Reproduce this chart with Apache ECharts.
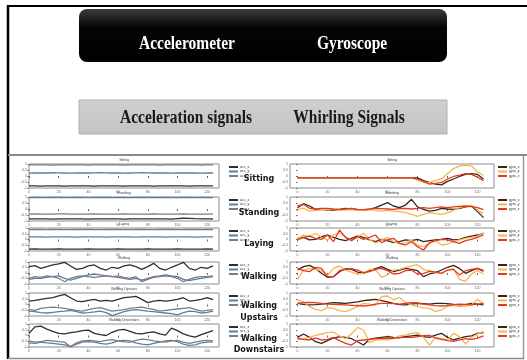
<!DOCTYPE html>
<html>
<head>
<meta charset="utf-8">
<script src="https://cdn.jsdelivr.net/npm/echarts@6/dist/echarts.min.js"></script>
<style>
  html, body { margin: 0; padding: 0; background: #fff; }
  #chart { width: 527px; height: 360px; }
</style>
</head>
<body>
<div id="chart"></div>
<script>
// Activities shown in each row of the panel
const activities = ['Sitting', 'Standing', 'Laying', 'Walking', 'Walking Upstairs', 'Walking Downstairs'];
const rowLabels = [['Sitting'], ['Standing'], ['Laying'], ['Walking'], ['Walking', 'Upstairs'], ['Walking', 'Downstairs']];

// Sample index of each plotted reading within the 128-sample window
const sampleIdx = [0, 4, 8, 12, 16, 20, 24, 28, 32, 36, 40, 44, 48, 52, 56, 60, 64, 68, 72, 76, 80, 84, 88, 92, 96, 100, 104, 108, 112, 116, 120, 124];
const xTicks = [0, 20, 40, 60, 80, 100, 120];

const accNames = ['acc_x', 'acc_y', 'acc_z'];
const gyroNames = ['gyro_x', 'gyro_y', 'gyro_z'];

// Normalised accelerometer signals (x, y, z)
const accSitting = [
  [-0.83,-0.82,-0.84,-0.83,-0.82,-0.83,-0.84,-0.83,-0.82,-0.83,-0.83,-0.84,-0.82,-0.83,-0.83,-0.82,-0.84,-0.83,-0.83,-0.82,-0.83,-0.84,-0.83,-0.82,-0.83,-0.83,-0.82,-0.84,-0.83,-0.82,-0.83,-0.83],
  [0.24,0.25,0.26,0.25,0.27,0.26,0.25,0.24,0.25,0.26,0.25,0.26,0.27,0.26,0.25,0.25,0.24,0.25,0.26,0.27,0.26,0.25,0.26,0.25,0.24,0.25,0.25,0.26,0.25,0.24,0.25,0.25],
  [0.92,0.92,0.93,0.92,0.91,0.92,0.92,0.93,0.92,0.92,0.91,0.92,0.93,0.92,0.92,0.92,0.91,0.92,0.92,0.93,0.92,0.92,0.91,0.92,0.92,0.93,0.92,0.92,0.92,0.91,0.92,0.92]
];
const accStanding = [
  [-0.83,-0.83,-0.82,-0.83,-0.84,-0.83,-0.83,-0.82,-0.83,-0.83,-0.84,-0.83,-0.82,-0.83,-0.83,-0.83,-0.84,-0.83,-0.82,-0.83,-0.83,-0.83,-0.82,-0.83,-0.84,-0.80,-0.77,-0.78,-0.81,-0.83,-0.82,-0.83],
  [0.95,0.96,0.96,0.95,0.96,0.97,0.96,0.95,0.96,0.96,0.95,0.96,0.97,0.96,0.95,0.96,0.96,0.95,0.96,0.96,0.97,0.96,0.95,0.96,0.96,0.95,0.96,0.96,0.95,0.96,0.96,0.95],
  [-0.42,-0.41,-0.42,-0.43,-0.42,-0.41,-0.40,-0.42,-0.42,-0.43,-0.42,-0.41,-0.42,-0.42,-0.43,-0.42,-0.41,-0.42,-0.42,-0.43,-0.42,-0.41,-0.42,-0.42,-0.43,-0.42,-0.41,-0.42,-0.43,-0.42,-0.42,-0.41]
];
const accLaying = [
  [-0.83,-0.82,-0.83,-0.84,-0.83,-0.82,-0.83,-0.83,-0.84,-0.83,-0.82,-0.83,-0.83,-0.84,-0.83,-0.82,-0.83,-0.83,-0.84,-0.83,-0.82,-0.83,-0.83,-0.84,-0.83,-0.82,-0.83,-0.83,-0.84,-0.83,-0.82,-0.83],
  [0.22,0.23,0.22,0.21,0.22,0.23,0.22,0.22,0.21,0.22,0.23,0.22,0.22,0.21,0.22,0.23,0.22,0.22,0.21,0.22,0.23,0.22,0.22,0.21,0.22,0.23,0.22,0.22,0.21,0.22,0.23,0.22],
  [0.86,0.88,0.87,0.85,0.87,0.88,0.86,0.85,0.87,0.88,0.87,0.86,0.85,0.87,0.88,0.87,0.86,0.85,0.87,0.88,0.86,0.85,0.87,0.88,0.87,0.86,0.85,0.87,0.88,0.86,0.87,0.87]
];
const accWalking = [
  [0.58,0.67,0.42,0.58,0.73,0.82,0.97,0.64,0.33,0.42,0.64,0.73,0.42,0.27,0.52,0.42,0.64,0.73,0.58,0.33,0.58,0.88,0.42,0.27,0.52,0.73,0.97,0.42,0.27,0.52,0.42,0.64],
  [-0.58,-0.48,-0.48,-0.39,-0.33,-0.27,-0.48,-0.64,-0.48,-0.33,-0.18,-0.09,-0.18,-0.27,-0.33,-0.39,-0.48,-0.58,-0.48,-0.64,-0.48,-0.33,-0.27,-0.18,-0.27,-0.33,-0.58,-0.70,-0.58,-0.48,-0.39,-0.33],
  [-0.48,-0.33,-0.39,-0.27,-0.33,-0.48,-0.79,-0.48,-0.33,-0.27,-0.33,-0.39,-0.33,-0.27,-0.33,-0.27,-0.39,-0.48,-0.33,-0.79,-0.58,-0.39,-0.33,-0.27,-0.33,-0.48,-0.79,-0.58,-0.39,-0.33,-0.33,-0.27]
];
const accUpstairs = [
  [0.30,0.36,0.45,0.54,0.59,0.74,0.88,0.59,0.30,0.25,0.36,0.45,0.30,0.36,0.30,0.45,0.59,0.65,0.71,0.45,0.16,0.30,0.36,0.30,0.36,0.45,0.59,0.30,0.36,0.45,0.59,0.42],
  [-0.57,-0.62,-0.71,-0.74,-0.68,-0.62,-0.57,-0.51,-0.62,-0.74,-0.71,-0.65,-0.57,-0.71,-0.97,-0.80,-0.62,-0.51,-0.45,-0.51,-0.57,-0.62,-0.68,-0.74,-0.80,-0.91,-0.71,-0.57,-0.62,-0.74,-0.68,-0.57],
  [-0.42,-0.51,-0.33,-0.28,-0.22,-0.28,-0.33,-0.42,-0.51,-0.57,-0.45,-0.33,-0.28,-0.42,-0.57,-0.51,-0.45,-0.33,-0.28,-0.22,-0.33,-0.42,-0.57,-0.51,-0.45,-0.39,-0.33,-0.28,-0.42,-0.57,-0.51,-0.45]
];
const accDownstairs = [
  [0.19,0.75,0.81,0.56,0.36,0.19,0.14,0.25,0.31,0.42,0.47,0.19,0.08,0.00,0.28,0.47,0.53,0.36,0.19,0.14,0.25,0.31,0.14,0.03,0.64,0.42,0.14,-0.03,-0.14,0.08,0.25,0.42],
  [-0.64,-0.69,-0.58,-0.64,-0.69,-0.75,-0.81,-0.97,-0.75,-0.58,-0.53,-0.58,-0.69,-0.75,-0.64,-0.47,-0.42,-0.47,-0.64,-0.75,-0.81,-0.69,-0.58,-0.47,-0.42,-0.53,-0.75,-0.86,-0.81,-0.64,-0.58,-0.56],
  [-0.47,-0.58,-0.53,-0.42,-0.47,-0.53,-0.58,-0.97,-0.64,-0.47,-0.42,-0.47,-0.53,-0.42,-0.36,-0.47,-0.56,-0.58,-0.42,-0.31,-0.36,-0.47,-0.53,-0.58,-0.47,-0.42,-0.58,-0.69,-0.58,-0.47,-0.42,-0.47]
];

// Normalised gyroscope signals (x, y, z)
const gyroSitting = [
  [-0.16,-0.16,-0.16,-0.16,-0.16,-0.16,-0.16,-0.16,-0.16,-0.16,-0.16,-0.16,-0.16,-0.16,-0.16,-0.16,-0.16,-0.16,-0.16,-0.16,-0.16,-0.39,-0.54,-0.68,-0.74,-0.45,-0.25,-0.04,0.13,0.19,0.13,-0.25],
  [-0.16,-0.16,-0.16,-0.16,-0.16,-0.16,-0.16,-0.16,-0.16,-0.16,-0.16,-0.16,-0.16,-0.16,-0.16,-0.16,-0.16,-0.16,-0.16,-0.16,-0.33,-0.54,-0.54,-0.39,-0.25,0.19,0.62,0.83,0.91,0.83,0.33,0.04],
  [-0.16,-0.16,-0.16,-0.16,-0.16,-0.16,-0.16,-0.16,-0.16,-0.16,-0.16,-0.16,-0.16,-0.16,-0.16,-0.16,-0.16,-0.16,-0.16,-0.16,-0.25,-0.45,-0.68,-0.62,-0.54,-0.25,-0.04,0.07,0.19,0.13,-0.10,-0.39]
];
const gyroStanding = [
  [0.11,0.44,0.25,-0.03,-0.06,-0.08,-0.11,-0.03,0.06,0.00,-0.06,-0.11,-0.03,0.11,0.33,0.53,0.25,0.11,0.33,0.81,0.17,-0.03,-0.17,-0.11,0.06,0.00,-0.03,0.06,0.17,0.25,-0.22,-0.72],
  [-0.03,0.06,-0.17,-0.11,-0.06,-0.03,-0.06,-0.11,-0.08,-0.06,-0.11,-0.11,-0.06,-0.11,-0.17,-0.11,-0.17,-0.22,-0.31,-0.44,-0.61,-0.44,-0.31,-0.39,-0.44,-0.33,-0.11,0.11,0.22,0.33,-0.11,-0.39],
  [0.25,0.39,0.06,0.00,0.06,0.06,0.00,-0.03,0.00,0.06,-0.03,-0.06,0.00,0.06,0.03,0.00,-0.03,0.03,0.06,0.00,0.06,0.11,0.06,0.11,0.17,0.11,0.17,0.22,0.25,0.19,0.11,-0.06]
];
const gyroLaying = [
  [0.10,0.19,-0.04,0.01,0.25,0.39,0.19,0.01,-0.10,0.10,0.30,0.19,-0.04,-0.19,0.01,-0.10,-0.28,-0.19,-0.04,-0.10,0.01,-0.19,-0.10,-0.04,0.01,0.10,-0.04,0.01,0.19,0.30,0.39,0.54],
  [0.01,0.39,0.25,0.54,0.19,-0.04,0.39,0.59,0.25,-0.04,0.19,0.54,0.01,-0.33,-0.04,0.19,-0.19,-0.39,-0.28,-0.04,-0.48,-0.62,-0.33,-0.10,-0.48,-0.39,-0.19,-0.04,0.10,0.19,0.30,0.59],
  [-0.04,0.19,0.30,0.10,0.01,0.39,-0.19,0.83,0.19,-0.10,0.25,0.01,0.19,0.39,-0.28,-0.04,0.10,-0.33,-0.48,-0.19,-0.62,-0.91,-0.28,-0.10,0.01,-0.04,-0.19,-0.33,-0.10,0.01,0.19,0.39]
];
const gyroWalking = [
  [0.27,0.58,0.70,0.42,-0.03,-0.39,-0.33,0.12,0.39,0.33,0.09,-0.03,0.21,0.39,0.58,0.33,0.12,0.27,0.42,0.33,0.21,-0.33,-0.09,0.03,0.27,0.52,0.70,0.42,-0.03,0.21,0.42,0.21],
  [-0.58,0.27,0.42,0.33,0.21,-0.21,0.42,0.64,0.27,0.09,-0.09,-0.03,0.33,0.27,-0.39,-0.18,0.27,0.33,0.52,0.64,0.76,0.33,0.21,0.03,-0.03,0.27,0.39,-0.58,-0.76,-0.09,0.21,-0.09],
  [0.42,0.21,0.12,0.52,0.42,-0.33,-0.33,0.21,0.33,0.39,0.27,0.03,0.12,0.33,0.42,0.21,-0.09,-0.03,0.21,0.27,-0.09,-0.03,0.15,0.09,-0.03,0.27,0.33,-0.18,0.21,0.33,0.42,0.15]
];
const gyroUpstairs = [
  [0.10,0.01,-0.04,-0.01,0.04,0.10,0.16,0.13,0.10,0.16,0.22,0.33,0.39,0.45,0.33,0.22,0.10,-0.01,-0.04,0.04,0.10,0.07,0.04,0.10,0.10,0.07,0.01,-0.04,-0.01,0.10,0.04,-0.04],
  [0.39,0.22,-0.19,-0.42,-0.54,-0.25,-0.36,-0.54,-0.62,-0.42,-0.19,0.10,0.04,-0.07,0.68,0.74,0.39,0.62,0.16,-0.04,-0.19,-0.30,-0.36,-0.59,-0.48,-0.13,-0.07,-0.19,-0.13,-0.01,0.45,0.04],
  [0.10,0.16,0.19,0.16,0.10,0.04,0.01,-0.01,-0.04,-0.07,-0.10,-0.13,-0.07,0.04,0.10,0.10,0.07,0.04,0.10,0.16,0.13,0.04,-0.04,-0.10,-0.13,-0.10,-0.01,0.04,0.01,-0.04,0.04,0.10]
];
const gyroDownstairs = [
  [-0.16,0.13,-0.16,-0.54,-0.68,-0.45,-0.22,-0.10,-0.16,-0.28,-0.54,-0.83,-0.33,-0.22,-0.16,-0.10,-0.16,-0.19,-0.10,-0.04,0.04,-0.10,-0.16,0.04,0.19,-0.16,-0.39,-0.22,-0.10,-0.04,0.19,0.25],
  [-0.39,-0.28,-0.16,0.01,0.13,0.25,0.30,-0.04,-0.28,0.13,0.71,0.48,-0.62,-0.39,-0.33,-0.39,-0.25,-0.04,0.04,0.19,0.25,-0.16,-0.83,-0.16,-0.28,-0.39,0.19,-0.10,-0.74,-0.16,0.13,0.36],
  [-0.25,-0.33,-0.39,-0.22,-0.39,-0.33,-0.16,-0.45,-0.68,-0.83,-0.45,-0.39,-0.33,-0.28,-0.25,-0.22,-0.25,-0.19,-0.16,-0.16,-0.10,-0.01,0.01,-0.22,-0.33,-0.45,-0.51,-0.39,-0.28,-0.33,-0.22,-0.04]
];

const accRows = [accSitting, accStanding, accLaying, accWalking, accUpstairs, accDownstairs];
const gyroRows = [gyroSitting, gyroStanding, gyroLaying, gyroWalking, gyroUpstairs, gyroDownstairs];

// Panel layout (pixels)
const rowTops = [164, 197, 228, 262, 293, 324];
const rowHeights = [24, 24, 23, 22, 23, 23];
const panels = [
  { kind: 'acc', left: 29, width: 190, xMin: 0, xMax: 128, names: accNames, rows: accRows,
    colors: ['#2a2f3a', '#5a7ea6', '#7d7d7d'], legendLeft: 229 },
  { kind: 'gyro', left: 290, width: 204, xMin: -5, xMax: 131, names: gyroNames, rows: gyroRows,
    colors: ['#3a2416', '#f5b553', '#e5381e'], legendLeft: 498 }
];

const grids = [], xAxes = [], yAxes = [], series = [], legends = [], graphics = [];

panels.forEach(p => {
  p.rows.forEach((rowData, r) => {
    const gi = grids.length;
    grids.push({
      left: p.left, top: rowTops[r], width: p.width, height: rowHeights[r],
      show: true, borderColor: '#8c8c8c', borderWidth: 1, backgroundColor: '#fff'
    });
    xAxes.push({
      type: 'value', gridIndex: gi, min: p.xMin, max: p.xMax,
      axisLine: { show: false }, splitLine: { show: false },
      axisTick: { show: true, length: 2, lineStyle: { color: '#666' }, customValues: xTicks },
      axisLabel: { show: true, fontSize: 3.5, color: '#666', margin: 2, customValues: xTicks }
    });
    yAxes.push({
      type: 'value', gridIndex: gi, min: -1, max: 1, interval: 0.5,
      axisLine: { show: false }, splitLine: { show: false },
      axisTick: { show: true, length: 1.5, lineStyle: { color: '#666' } },
      axisLabel: { show: true, fontSize: 3.5, color: '#666', margin: 2 }
    });
    rowData.forEach((vals, k) => {
      series.push({
        type: 'line', name: p.names[k], xAxisIndex: gi, yAxisIndex: gi,
        data: sampleIdx.map((s, i) => [s, vals[i]]),
        showSymbol: false, symbol: 'none', silent: true, animation: false,
        color: p.colors[k],
        lineStyle: { width: 1.3, color: p.colors[k] }
      });
    });
    legends.push({
      left: p.legendLeft, top: rowTops[r] + 1, orient: 'vertical', padding: 0,
      itemWidth: 9, itemHeight: 2, itemGap: 0.5, icon: 'rect', selectedMode: false,
      data: p.names,
      textStyle: { fontSize: 3.5, lineHeight: 3, color: '#333', padding: [0, 0, 0, -3] }
    });
    // small subplot title
    graphics.push({
      type: 'text', x: p.left + p.width / 2, y: rowTops[r] - 1.5, silent: true,
      style: { text: activities[r], fontSize: 3.5, fill: '#444', align: 'center', verticalAlign: 'bottom' }
    });
  });
});

// Activity names between the two columns
const labelY = [179, 213, 244, 277, [306, 318], [339, 350]];
rowLabels.forEach((lines, r) => {
  lines.forEach((t, j) => {
    const y = Array.isArray(labelY[r]) ? labelY[r][j] : labelY[r];
    graphics.push({
      type: 'text', x: 259, y: y, silent: true,
      style: { text: t, fontSize: 8, fontWeight: 'bold', fontFamily: 'DejaVu Sans', fill: '#151515',
               align: 'center', verticalAlign: 'middle' }
    });
  });
});

// Header heading text: tall, narrow serif
function heading(text, x, y, color) {
  return { type: 'text', silent: true, x: x, y: y, scaleX: 0.86, scaleY: 1,
    style: { text: text, fontSize: 18, fontWeight: 'bold', fontFamily: 'Liberation Serif', fill: color,
             align: 'center', verticalAlign: 'middle' } };
}

// Header: frame, sensor box and signal box
graphics.unshift(
  { type: 'line', silent: true, shape: { x1: 8, y1: 6, x2: 527, y2: 6 }, style: { stroke: '#000', lineWidth: 2 } },
  { type: 'line', silent: true, shape: { x1: 8, y1: 5, x2: 8, y2: 359 }, style: { stroke: '#000', lineWidth: 2.5 } },
  { type: 'line', silent: true, shape: { x1: 8, y1: 155, x2: 527, y2: 155 }, style: { stroke: '#8a8a8a', lineWidth: 2 } },
  { type: 'line', silent: true, shape: { x1: 523.5, y1: 155, x2: 523.5, y2: 359 }, style: { stroke: '#9a9a9a', lineWidth: 1.5 } },
  { type: 'line', silent: true, shape: { x1: 8, y1: 358.5, x2: 524, y2: 358.5 }, style: { stroke: '#8a8a8a', lineWidth: 1.5 } },
  {
    type: 'rect', silent: true, shape: { x: 79, y: 9, width: 368, height: 53, r: 8 },
    style: { fill: { type: 'linear', x: 0, y: 0, x2: 0, y2: 1,
      colorStops: [{ offset: 0, color: '#3c3c3c' }, { offset: 0.35, color: '#050505' }, { offset: 1, color: '#000' }] } }
  },
  heading('Accelerometer', 187, 44, '#fff'),
  heading('Gyroscope', 352, 44, '#fff'),
  {
    type: 'rect', silent: true, shape: { x: 79, y: 100, width: 368, height: 34 },
    style: { stroke: '#b0b0b0', lineWidth: 1, fill: { type: 'linear', x: 0, y: 0, x2: 0, y2: 1,
      colorStops: [{ offset: 0, color: '#cfcfcf' }, { offset: 1, color: '#c4c4c4' }] } }
  },
  heading('Acceleration signals', 186, 118, '#1a1a1a'),
  heading('Whirling Signals', 349, 118, '#1a1a1a')
);

const chart = echarts.init(document.getElementById('chart'), null, { renderer: 'canvas' });
chart.setOption({
  backgroundColor: '#fff',
  animation: false,
  grid: grids,
  xAxis: xAxes,
  yAxis: yAxes,
  legend: legends,
  series: series,
  graphic: graphics
});
</script>
</body>
</html>
